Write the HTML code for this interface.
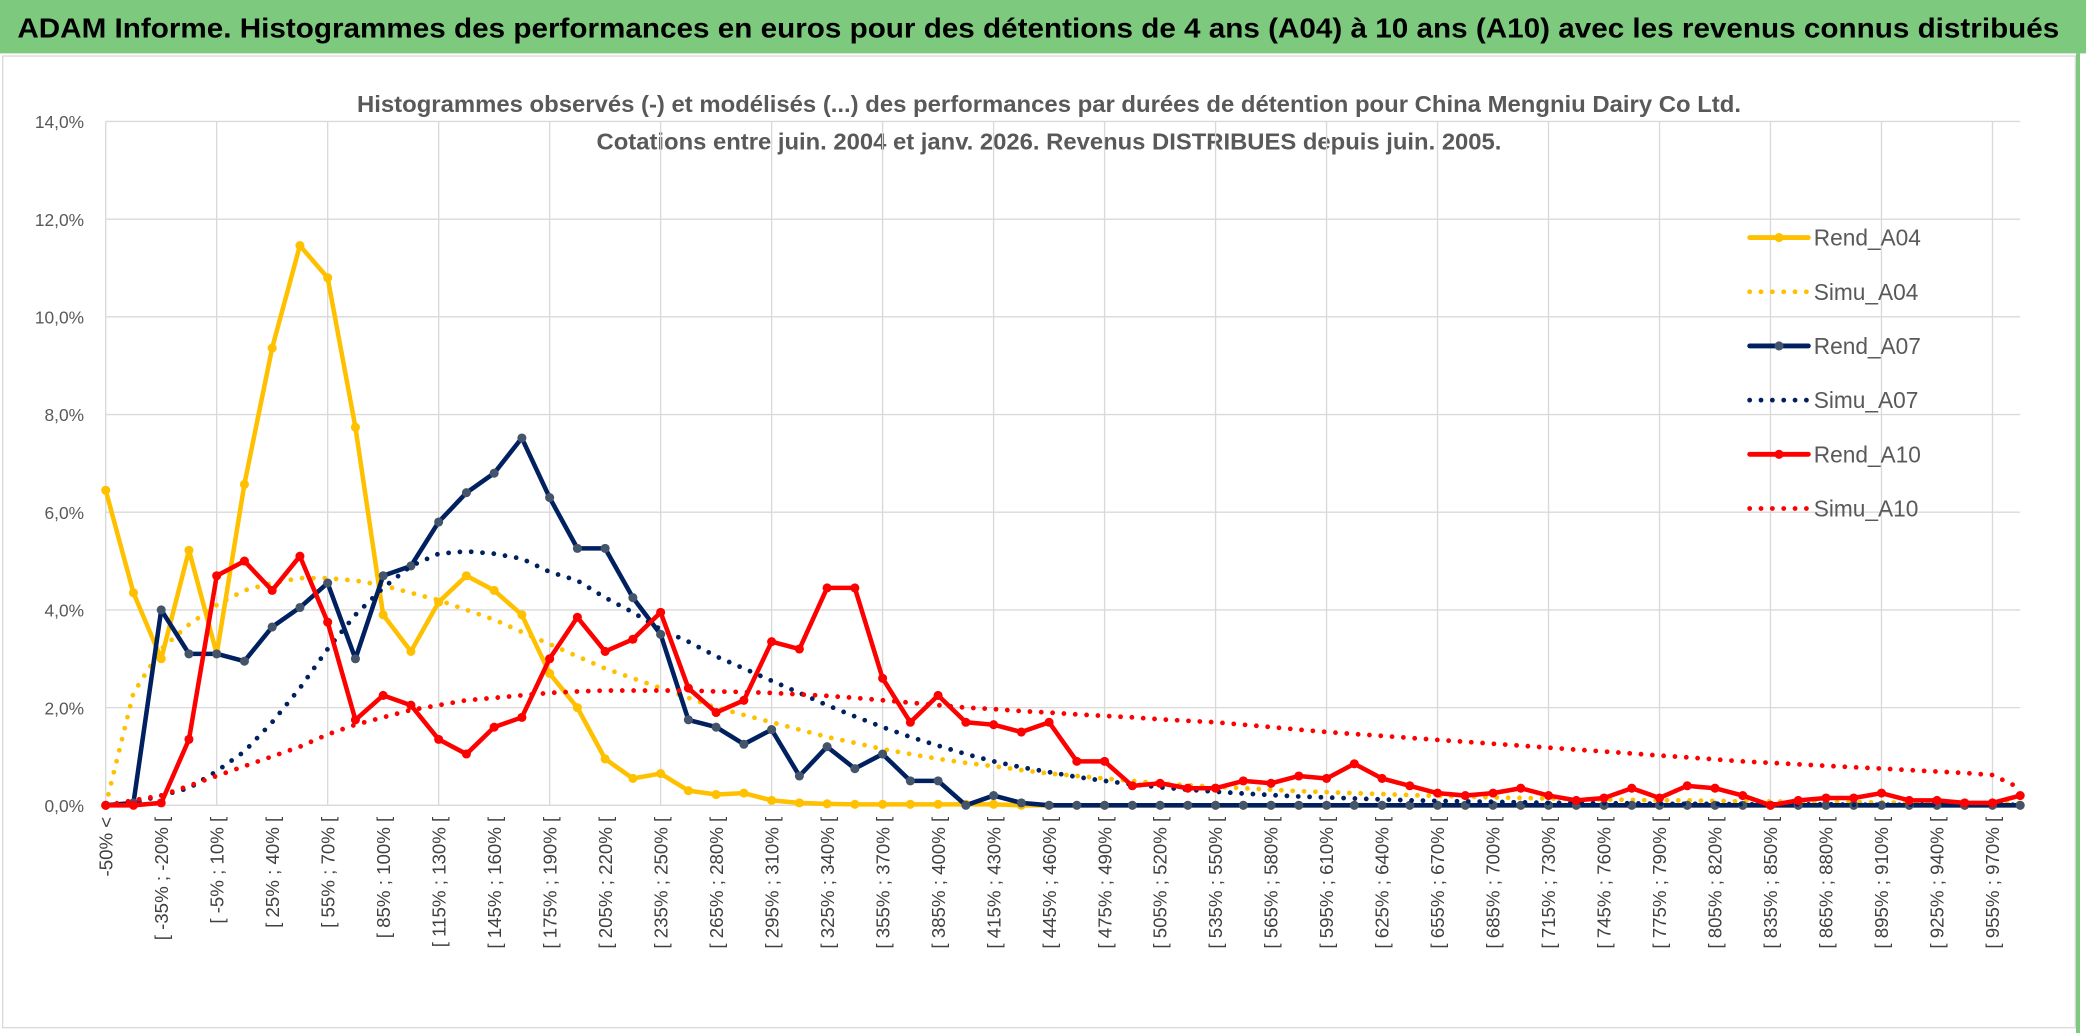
<!DOCTYPE html>
<html><head><meta charset="utf-8"><style>
html,body{margin:0;padding:0;background:#fff;}
svg{display:block;}
text{font-family:"Liberation Sans",sans-serif;}
</style></head><body>
<svg id="chart" width="2086" height="1033" viewBox="0 0 1563 774" preserveAspectRatio="none" xmlns="http://www.w3.org/2000/svg">
<rect x="0" y="0" width="1563" height="774" fill="#fff"/>
<rect x="0" y="0" width="1563" height="40" fill="#7dc97d"/>
<text x="778" y="28" text-anchor="middle" font-size="21" font-weight="bold" fill="#000" textLength="1530" lengthAdjust="spacingAndGlyphs">ADAM Informe. Histogrammes des performances en euros pour des détentions de 4 ans (A04) à 10 ans (A10) avec les revenus connus distribués</text>
<rect x="2" y="42" width="1553" height="728" fill="none" stroke="#d9d9d9" stroke-width="1"/>
<line x1="1557" y1="40" x2="1557" y2="774" stroke="#7dc97d" stroke-width="3"/>
<text x="786" y="84" text-anchor="middle" font-size="17" font-weight="bold" fill="#595959" textLength="1037" lengthAdjust="spacingAndGlyphs">Histogrammes observés (-) et modélisés (...) des performances par durées de détention pour China Mengniu Dairy Co Ltd.</text>
<text x="786" y="112" text-anchor="middle" font-size="17" font-weight="bold" fill="#595959" textLength="678" lengthAdjust="spacingAndGlyphs">Cotations entre juin. 2004 et janv. 2026. Revenus DISTRIBUES depuis juin. 2005.</text>
<g id="grid"></g>
<g id="axes"></g>
<g id="series"></g>
<g id="legend"></g>
</svg>
<script>
const rendA04 = [6.45,4.35,3.0,5.22,3.1,6.57,9.36,11.46,10.8,7.74,3.9,3.15,4.16,4.7,4.4,3.9,2.7,2.0,0.95,0.55,0.65,0.3,0.22,0.25,0.1,0.05,0.03,0.02,0.02,0.02,0.02,0.02,0.02,0,0,0,0,0,0,0,0,0,0,0,0,0,0,0,0,0,0,0,0,0,0,0,0,0,0,0,0,0,0,0,0,0,0,0,0,0];
const simuA04 = [0,2.3,3.2,3.7,4.1,4.4,4.55,4.65,4.65,4.6,4.5,4.35,4.2,4.0,3.8,3.55,3.3,3.05,2.8,2.6,2.4,2.2,2.0,1.85,1.7,1.55,1.4,1.28,1.15,1.05,0.95,0.87,0.8,0.72,0.65,0.6,0.55,0.5,0.45,0.41,0.38,0.35,0.32,0.29,0.27,0.25,0.23,0.21,0.19,0.18,0.16,0.15,0.14,0.13,0.12,0.11,0.1,0.1,0.09,0.08,0.08,0.07,0.07,0.06,0.06,0.05,0.05,0.05,0.04,0.04];
const rendA07 = [0,0.05,4.0,3.1,3.1,2.95,3.65,4.05,4.55,3.0,4.7,4.9,5.8,6.4,6.8,7.52,6.3,5.26,5.26,4.25,3.5,1.75,1.6,1.25,1.55,0.6,1.2,0.75,1.05,0.5,0.5,0,0.2,0.05,0,0,0,0,0,0,0,0,0,0,0,0,0,0,0,0,0,0,0,0,0,0,0,0,0,0,0,0,0,0,0,0,0,0,0,0];
const simuA07 = [0,0.05,0.2,0.35,0.7,1.1,1.7,2.4,3.2,3.9,4.45,4.9,5.15,5.2,5.15,5.05,4.78,4.6,4.25,3.95,3.6,3.35,3.05,2.8,2.55,2.3,2.05,1.82,1.6,1.4,1.22,1.05,0.9,0.78,0.68,0.58,0.5,0.43,0.37,0.32,0.28,0.24,0.21,0.18,0.16,0.14,0.12,0.1,0.09,0.08,0.07,0.06,0.05,0.05,0.04,0.04,0.03,0.03,0.03,0.02,0.02,0.02,0.02,0.01,0.01,0.01,0.01,0.01,0.01,0.01];
const rendA10 = [0,0,0.05,1.35,4.7,5.0,4.4,5.1,3.75,1.75,2.25,2.05,1.35,1.05,1.6,1.8,3.0,3.85,3.15,3.4,3.95,2.4,1.9,2.15,3.35,3.2,4.45,4.45,2.6,1.7,2.25,1.7,1.65,1.5,1.7,0.9,0.9,0.4,0.45,0.35,0.35,0.5,0.45,0.6,0.55,0.85,0.55,0.4,0.25,0.2,0.25,0.35,0.2,0.1,0.15,0.35,0.15,0.4,0.35,0.2,0,0.1,0.15,0.15,0.25,0.1,0.1,0.05,0.05,0.2];
const simuA10 = [0,0.1,0.2,0.4,0.6,0.8,1.0,1.2,1.45,1.65,1.8,1.95,2.05,2.15,2.2,2.25,2.3,2.33,2.35,2.35,2.35,2.35,2.33,2.32,2.3,2.27,2.24,2.2,2.15,2.1,2.05,2.0,1.97,1.93,1.9,1.86,1.83,1.8,1.76,1.73,1.7,1.65,1.6,1.55,1.5,1.46,1.42,1.38,1.34,1.3,1.26,1.22,1.18,1.14,1.1,1.06,1.02,0.98,0.94,0.9,0.87,0.84,0.81,0.78,0.75,0.72,0.69,0.66,0.62,0.35];
const yTicks = [0,2,4,6,8,10,12,14];
const yTickLabels = ["0,0%","2,0%","4,0%","6,0%","8,0%","10,0%","12,0%","14,0%"];
const categories = ["-50% <"];
for (let k = 1; k < 70; k++) { const a = -50 + (k - 1) * 15; categories.push("[ " + a + "% ; " + (a + 15) + "% ["); }
const seriesNames = ["Rend_A04","Simu_A04","Rend_A07","Simu_A07","Rend_A10","Simu_A10"];

const NS = "http://www.w3.org/2000/svg";
const X0 = 79.2, XSTEP = 20.79, Y0 = 603.4, YPER = 36.6;
function xs(i){ return X0 + i * XSTEP; }
function ys(v){ return Y0 - v * YPER; }
function mk(tag, attrs, parent){ const e = document.createElementNS(NS, tag); for (const k in attrs) e.setAttribute(k, attrs[k]); parent.appendChild(e); return e; }

const grid = document.getElementById('grid');
const axes = document.getElementById('axes');
yTicks.forEach((t, j) => {
  const l = mk('line', {x1: X0, x2: xs(69), y1: ys(t), y2: ys(t), stroke: '#d9d9d9', 'stroke-width': 1}, grid);
  
  
  const tx = mk('text', {x: 63, y: ys(t) + 5, 'text-anchor': 'end', 'font-size': 13, fill: '#595959'}, axes);
  tx.textContent = yTickLabels[j];
  
  
});
for (let i = 0; i < categories.length; i += 4) {
  const l = mk('line', {x1: xs(i), x2: xs(i), y1: ys(14), y2: Y0, stroke: '#d9d9d9', 'stroke-width': 1}, grid);
  
  
}
for (let i = 0; i < categories.length; i += 2) {
  const tx = mk('text', {x: 0, y: 0, 'text-anchor': 'end', 'font-size': 14, fill: '#404040', transform: 'translate(' + (xs(i) + 5) + ',612) rotate(-90)'}, axes);
  tx.textContent = categories[i];
  
  
}

const seriesG = document.getElementById('series');
function drawSeries(vals, color, dotted, markerColor, name){
  const g = mk('g', {}, seriesG);
  
  
  const pts = vals.map((v, i) => xs(i).toFixed(1) + ',' + ys(v).toFixed(1)).join(' ');
  const attrs = {points: pts, fill: 'none', stroke: color, 'stroke-width': dotted ? 3.6 : 3.4, 'stroke-linejoin': 'round', 'stroke-linecap': 'round'};
  if (dotted) attrs['stroke-dasharray'] = '0 8.5';
  const pl = mk('polyline', attrs, g);
  
  
  if (!dotted) {
    vals.forEach((v, i) => {
      const c = mk('circle', {cx: xs(i), cy: ys(v), r: 3.4, fill: markerColor}, g);
      
      
    });
  }
}
drawSeries(rendA04, '#FFC000', false, '#FFC000', 'rend-a04');
drawSeries(simuA04, '#FFC000', true, null, 'simu-a04');
drawSeries(rendA07, '#002060', false, '#44546a', 'rend-a07');
drawSeries(simuA07, '#002060', true, null, 'simu-a07');
drawSeries(rendA10, '#FF0000', false, '#FF0000', 'rend-a10');
drawSeries(simuA10, '#FF0000', true, null, 'simu-a10');

const legend = document.getElementById('legend');
const legColors = ['#FFC000','#FFC000','#002060','#002060','#FF0000','#FF0000'];
const legMarker = ['#FFC000',null,'#44546a',null,'#FF0000',null];
seriesNames.forEach((n, j) => {
  const y = 178 + j * 40.6;
  const g = mk('g', {}, legend);
  
  
  const a = {x1: 1311, x2: 1355, y1: y, y2: y, stroke: legColors[j], 'stroke-width': 3.6, 'stroke-linecap': 'round'};
  if (j % 2 === 1) a['stroke-dasharray'] = '0 8.5';
  mk('line', a, g);
  if (legMarker[j]) mk('circle', {cx: 1333, cy: y, r: 3.4, fill: legMarker[j]}, g);
  const t = mk('text', {x: 1359, y: y + 6, 'font-size': 17, fill: '#595959'}, g);
  t.textContent = n;
});
</script>
</body></html>
